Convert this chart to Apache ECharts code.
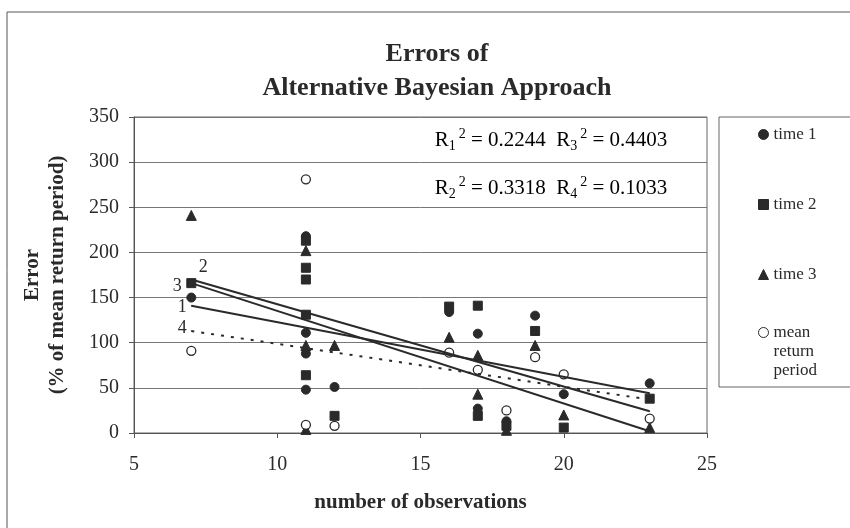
<!DOCTYPE html>
<html>
<head>
<meta charset="utf-8">
<script src="https://cdn.jsdelivr.net/npm/echarts@6/dist/echarts.min.js"></script>
<style>
html, body { margin: 0; padding: 0; background: #fff; }
#chart { width: 850px; height: 528px; }
</style>
</head>
<body>
<div id="chart"></div>
<script>
// values: [number of observations, error]
var time1 = [[7,150],[11,218],[11,111],[11,88],[11,48],[12,51],[16,134],[17,110],[17,27],[18,13],[19,130],[20,43],[23,55]];
var time2 = [[7,166],[11,213],[11,183],[11,170],[11,131],[11,64],[12,19],[16,140],[17,141],[17,19],[18,8],[19,113],[20,6],[23,38]];
var time3 = [[7,241],[11,202],[11,97],[11,4],[12,97],[16,106],[17,86],[17,43],[18,3],[19,97],[20,20],[23,6]];
var meanReturn = [[7,91],[11,281],[11,9],[12,8],[16,89],[17,70],[18,25],[19,84],[20,65],[23,16]];

// trend line end points
var trend1 = [[7,141],[23,44]];
var trend2 = [[7,170],[23,24]];
var trend3 = [[7,166],[23,2]];
var trend4 = [[7,113],[23,37]];
var trendNames = ['1', '2', '3', '4'];

var rSquared = [['1', '0.2244', '3', '0.4403'], ['2', '0.3318', '4', '0.1033']];

var serif = '"Liberation Serif", "Times New Roman", serif';
var ink = '#2a2a2a';

(function(){
	"use strict";

	var chart = echarts.init(document.getElementById('chart'));

	var trendLine = function(pts, idx, offset, dashed){
		return {
			name: 'trend ' + trendNames[idx],
			type: 'line',
			data: pts.map(function(p, i){
				var item = { value: p };
				if (i === 0) {
					item.label = {
						show: true,
						formatter: trendNames[idx],
						position: 'inside',
						offset: offset,
						fontFamily: serif,
						fontSize: 18,
						color: ink
					};
				}
				return item;
			}),
			symbol: 'circle',
			symbolSize: 1,
			showSymbol: true,
			itemStyle: { color: ink },
			silent: true,
			z: 3,
			lineStyle: { color: ink, width: 2, type: dashed ? [3, 7] : 'solid' }
		};
	};

	var rText = function(r){
		return '{r|R}{sub|' + r[0] + '}{sup|2}{r| = ' + r[1] + '  R}{sub|' + r[2] + '}{sup|2}{r| = ' + r[3] + '}';
	};
	var rRich = {
		r: { fontFamily: serif, fontSize: 21, color: ink, lineHeight: 26, verticalAlign: 'middle' },
		sub: { fontFamily: serif, fontSize: 14, color: ink, lineHeight: 12, verticalAlign: 'bottom' },
		sup: { fontFamily: serif, fontSize: 14, color: ink, lineHeight: 10, verticalAlign: 'top', padding: [0, 0, 0, 3] }
	};

	var legendBase = {
		orient: 'vertical',
		left: 753,
		itemWidth: 10,
		itemHeight: 10,
		itemStyle: { borderColor: ink, borderWidth: 1 },
		textStyle: { fontFamily: serif, fontSize: 17, color: ink, lineHeight: 19 }
	};

	var option = {
		backgroundColor: '#fff',
		animation: false,
		title: {
			text: 'Errors of\nAlternative Bayesian Approach',
			left: 437,
			textAlign: 'center',
			top: 37,
			padding: 0,
			textStyle: { fontFamily: serif, fontSize: 26, fontWeight: 'bold', color: ink, lineHeight: 34 }
		},
		legend: [
			Object.assign({}, legendBase, {
				top: 120,
				itemGap: 51,
				data: [
					{ name: 'time 1', icon: 'circle' },
					{ name: 'time 2', icon: 'rect' },
					{ name: 'time 3', icon: 'triangle' }
				]
			}),
			Object.assign({}, legendBase, {
				top: 280,
				// two empty lines on top so the marker sits beside "mean"
				formatter: function(){ return '\n\nmean\nreturn\nperiod'; },
				data: [ { name: 'mean return period', icon: 'circle' } ]
			})
		],
		grid: {
			left: 134, right: 143, top: 117, bottom: 95,
			show: true, borderColor: '#666', borderWidth: 1
		},
		xAxis: {
			type: 'value',
			min: 5, max: 25, interval: 5,
			name: 'number of observations',
			nameLocation: 'middle',
			nameGap: 59,
			nameTextStyle: { fontFamily: serif, fontSize: 21, fontWeight: 'bold', color: ink },
			axisLine: { show: true, lineStyle: { color: '#555' } },
			axisTick: { show: true, inside: false, length: 5, lineStyle: { color: '#555' } },
			axisLabel: { fontFamily: serif, fontSize: 20, color: ink, margin: 22 },
			splitLine: { show: false }
		},
		yAxis: {
			type: 'value',
			min: 0, max: 350, interval: 50,
			name: 'Error\n(% of mean return period)',
			nameLocation: 'middle',
			nameGap: 64,
			nameTextStyle: { fontFamily: serif, fontSize: 21, fontWeight: 'bold', color: ink, lineHeight: 25 },
			axisLine: { show: true, lineStyle: { color: '#555' } },
			axisTick: { show: true, inside: false, length: 5, lineStyle: { color: '#555' } },
			axisLabel: { fontFamily: serif, fontSize: 20, color: ink, margin: 15 },
			splitLine: { show: true, lineStyle: { color: '#777', width: 1 } }
		},
		graphic: [
			{ type: 'rect', silent: true, z: -1, shape: { x: 7, y: 12, width: 860, height: 540 },
			  style: { fill: 'none', stroke: '#555', lineWidth: 1 } },
			{ type: 'rect', silent: true, shape: { x: 719, y: 117, width: 135, height: 270 },
			  style: { fill: 'none', stroke: '#666', lineWidth: 1 } },
			{ type: 'text', silent: true, x: 551, y: 140,
			  style: { text: rText(rSquared[0]), rich: rRich, align: 'center', verticalAlign: 'middle' } },
			{ type: 'text', silent: true, x: 551, y: 188,
			  style: { text: rText(rSquared[1]), rich: rRich, align: 'center', verticalAlign: 'middle' } }
		],
		series: [
			{ name: 'time 1', type: 'scatter', data: time1, symbol: 'circle', symbolSize: 9,
			  itemStyle: { color: ink, borderColor: ink, opacity: 1 }, z: 2 },
			{ name: 'time 2', type: 'scatter', data: time2, symbol: 'rect', symbolSize: 9,
			  itemStyle: { color: ink, borderColor: ink, opacity: 1 }, z: 2 },
			{ name: 'time 3', type: 'scatter', data: time3, symbol: 'triangle', symbolSize: 10,
			  itemStyle: { color: ink, borderColor: ink, opacity: 1 }, z: 2 },
			{ name: 'mean return period', type: 'scatter', data: meanReturn, symbol: 'circle', symbolSize: 9,
			  itemStyle: { color: '#fff', borderColor: ink, borderWidth: 1.3, opacity: 1 }, z: 2 },
			trendLine(trend1, 0, [-9, 2], false),
			trendLine(trend2, 1, [12, -12], false),
			trendLine(trend3, 2, [-14, 3], false),
			trendLine(trend4, 3, [-9, -3], true)
		]
	};

	chart.setOption(option);
})();
</script>
</body>
</html>
